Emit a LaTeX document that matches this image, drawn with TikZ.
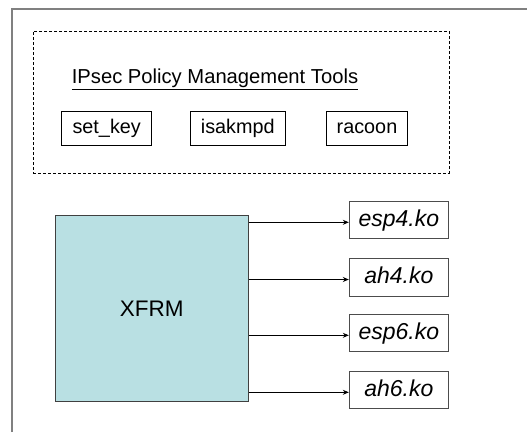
\documentclass[tikz,border=0pt]{standalone}
\usepackage{fontspec}
\setmainfont{Liberation Sans}
\usetikzlibrary{arrows.meta}
\definecolor{xfrmfill}{HTML}{B9E0E3}
\definecolor{framegray}{HTML}{808080}
\begin{document}
\begin{tikzpicture}[x=1pt,y=1pt,
  toolbox/.style={draw=black, line width=0.8pt, inner sep=0pt, minimum height=34pt,
     font=\fontsize{19.8}{22}\selectfont, text height=14.5pt, text depth=4pt},
  modbox/.style={draw=black!70, line width=1pt, inner sep=0pt, minimum width=99pt, minimum height=37.3pt,
     font=\fontsize{23}{26}\selectfont\itshape, text height=17pt, text depth=5pt},
  arr/.style={-{Stealth[length=6pt,width=5pt]}, line width=0.8pt}]
\useasboundingbox (0,0) rectangle (527,-432);
\draw[framegray, line width=2pt] (12,-432) -- (12,-9) -- (527,-9);
\node[draw=black, dash pattern=on 3pt off 2pt, line width=0.8pt, minimum width=416pt, minimum height=142pt, inner sep=0pt] (policy) at (241,-102) {};
\node[anchor=base, font=\fontsize{20.2}{24}\selectfont] (title) at (215,-83.5) {\underline{IPsec Policy Management Tools}};
\node[toolbox, minimum width=90pt] (setkey) at (106.7,-128.7) {set\_key};
\node[toolbox, minimum width=94.3pt] (isakmpd) at (237.8,-128.7) {isakmpd};
\node[toolbox, minimum width=80.6pt] (racoon) at (367,-128.7) {racoon};
\node[draw=black!75, fill=xfrmfill, line width=1pt, minimum width=193.3pt, minimum height=185.7pt, inner sep=0pt,
      font=\fontsize{22.5}{26}\selectfont] (xfrm) at (151.7,-308.8) {XFRM};
\node[modbox] (esp4) at (398.8,-220.3) {esp4.ko};
\node[modbox] (ah4) at (398.8,-277.5) {ah4.ko};
\node[modbox] (esp6) at (398.8,-333.3) {esp6.ko};
\node[modbox] (ah6) at (398.8,-390.3) {ah6.ko};
\foreach \m in {esp4,ah4,esp6,ah6}{
  \draw[arr] ([yshift=-2pt]\m.west -| xfrm.east) -- ([yshift=-2pt]\m.west);
}
\end{tikzpicture}
\end{document}
